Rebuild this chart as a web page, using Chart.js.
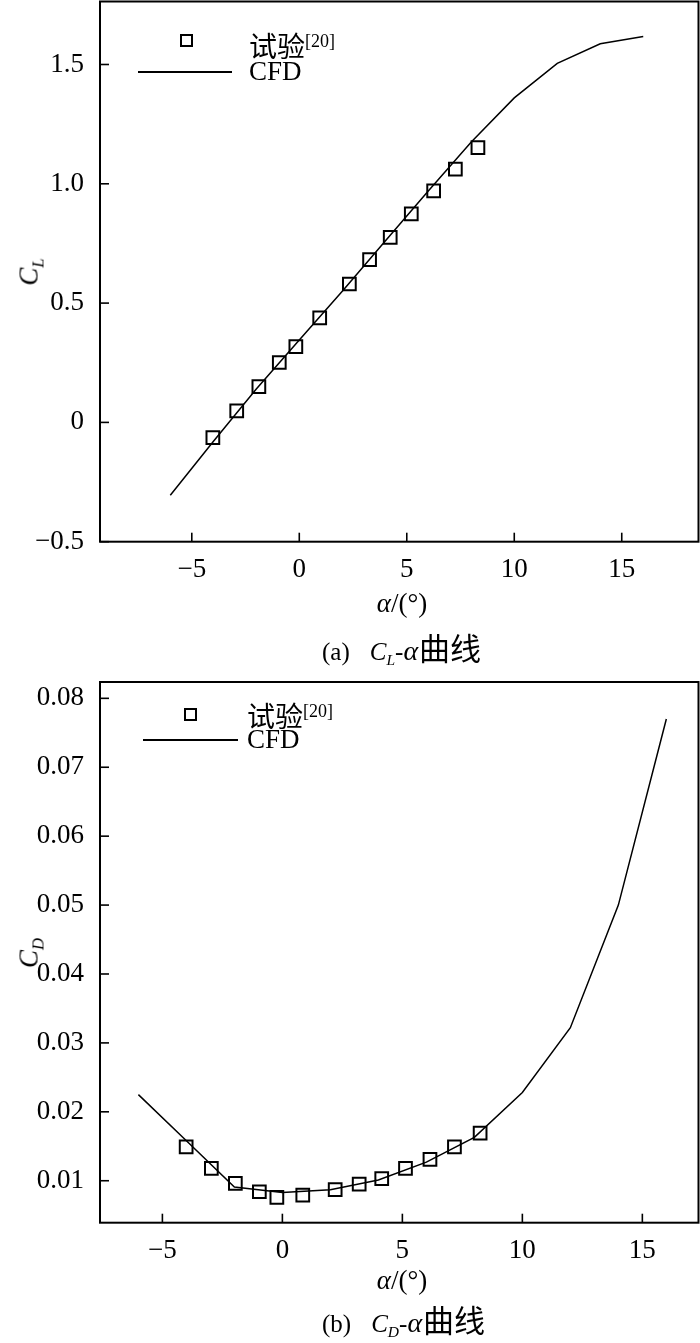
<!DOCTYPE html>
<html><head><meta charset="utf-8">
<script src="https://cdn.jsdelivr.net/npm/chart.js@4.4.1/dist/chart.umd.min.js"></script>
<style>
html,body{margin:0;padding:0;background:#fff}
body{width:700px;height:1343px;position:relative;overflow:hidden;font-family:"Liberation Serif","Noto Sans CJK SC",serif;color:#000}
canvas{position:absolute;left:0}
.t{position:absolute;white-space:nowrap;line-height:1}
.c{transform:translate(-50%,-50%)}
.l{transform:translateY(-50%)}
.cj{font-family:"Noto Sans CJK SC",sans-serif}
.sq{position:absolute;width:13px;height:13px;border:2px solid #000;box-sizing:border-box}
.ln{position:absolute;height:2px;background:#000}
.sb{font-size:0.62em;position:relative;top:0.35em}
.sp{font-size:18px;position:relative;top:-10px}
</style></head><body>
<canvas id="c1" width="700" height="670" style="top:0"></canvas>
<canvas id="c2" width="700" height="673" style="top:670px"></canvas>

<!-- top chart overlays -->
<div class="sq" style="left:180px;top:34px"></div>
<div class="ln" style="left:138px;top:71px;width:94px"></div>
<div class="t" style="left:249px;top:31px;font-size:28px"><span class="cj">试验</span><span class="sp">[20]</span></div>
<div class="t" style="left:249px;top:58px;font-size:27px">CFD</div>
<div class="t c" style="left:29px;top:272px;font-size:27px;transform:translate(-50%,-50%) rotate(-90deg)"><i>C</i><i class="sb">L</i></div>
<div class="t c" style="left:402px;top:603px;font-size:27px"><i>α</i>/(°)</div>
<div class="t l" style="left:322px;top:648px;font-size:25px">(a)<span style="margin-left:20px"><i>C</i><i class="sb">L</i>-<i style="font-size:28px">α</i><span class="cj" style="font-size:31px;margin-left:1px">曲线</span></span></div>

<!-- bottom chart overlays -->
<div class="sq" style="left:183.5px;top:708px"></div>
<div class="ln" style="left:143px;top:739px;width:95px"></div>
<div class="t" style="left:247px;top:701px;font-size:28px"><span class="cj">试验</span><span class="sp">[20]</span></div>
<div class="t" style="left:247px;top:726px;font-size:27px">CFD</div>
<div class="t c" style="left:29px;top:953px;font-size:27px;transform:translate(-50%,-50%) rotate(-90deg)"><i>C</i><i class="sb">D</i></div>
<div class="t c" style="left:402px;top:1280px;font-size:27px"><i>α</i>/(°)</div>
<div class="t l" style="left:322px;top:1320px;font-size:25px">(b)<span style="margin-left:20px"><i>C</i><i class="sb">D</i>-<i style="font-size:28px">α</i><span class="cj" style="font-size:31px;margin-left:1px">曲线</span></span></div>

<script>
// ---- data ----
const alphaCFD   = [-6, -4, -2, 0, 2, 4, 6, 8, 10, 12, 14, 16];
const clCFD      = [-0.305, -0.08, 0.14, 0.345, 0.55, 0.76, 0.97, 1.175, 1.36, 1.505, 1.587, 1.617];
const cdCFD      = [0.0225, 0.0158, 0.0091, 0.0083, 0.0087, 0.0101, 0.0127, 0.0163, 0.0228, 0.0322, 0.050, 0.077];
const alphaExpCL = [-4.02, -2.91, -1.88, -0.93, -0.16, 0.95, 2.33, 3.27, 4.23, 5.21, 6.25, 7.26, 8.31];
const clExp      = [-0.064, 0.048, 0.150, 0.251, 0.318, 0.438, 0.580, 0.682, 0.775, 0.874, 0.970, 1.061, 1.152];
const alphaExpCD = [-4.01, -2.96, -1.96, -0.96, -0.23, 0.85, 2.2, 3.2, 4.14, 5.13, 6.15, 7.17, 8.24];
const cdExp      = [0.0149, 0.0118, 0.0096, 0.0084, 0.0076, 0.0079, 0.0087, 0.0095, 0.0103, 0.0118, 0.0131, 0.0149, 0.0169];
const xTicks      = [-5, 0, 5, 10, 15];
const xTickLabels = ['\u22125', '0', '5', '10', '15'];
const clTicks      = [-0.5, 0, 0.5, 1.0, 1.5];
const clTickLabels = ['\u22120.5', '0', '0.5', '1.0', '1.5'];
const cdTicks      = [0.01, 0.02, 0.03, 0.04, 0.05, 0.06, 0.07, 0.08];
const cdTickLabels = ['0.01', '0.02', '0.03', '0.04', '0.05', '0.06', '0.07', '0.08'];

const pts = (xs, ys) => xs.map((x, i) => ({x, y: ys[i]}));

const framePlugin = {
  id: 'frame',
  afterDraw(chart) {
    const {ctx, chartArea: a, scales: {x, y}} = chart;
    ctx.save();
    ctx.strokeStyle = '#000';
    ctx.lineWidth = 1.6;
    x.ticks.forEach(t => {
      const px = x.getPixelForValue(t.value);
      ctx.beginPath(); ctx.moveTo(px, a.bottom); ctx.lineTo(px, a.bottom - 9); ctx.stroke();
    });
    y.ticks.forEach(t => {
      const py = y.getPixelForValue(t.value);
      ctx.beginPath(); ctx.moveTo(a.left, py); ctx.lineTo(a.left + 9, py); ctx.stroke();
    });
    ctx.lineWidth = 2;
    ctx.strokeRect(a.left, a.top, a.right - a.left, a.bottom - a.top);
    ctx.restore();
  }
};

function zeroPad(s) {
  s.paddingTop = 0; s.paddingBottom = 0; s.paddingLeft = 0; s.paddingRight = 0;
}

function makeChart(id, cfg) {
  const tickFont = {family: 'Liberation Serif', size: 27};
  return new Chart(document.getElementById(id), {
    type: 'scatter',
    data: {
      datasets: [
        {
          data: pts(alphaCFD, cfg.cfd),
          showLine: true, borderColor: '#000', borderWidth: 1.5,
          pointRadius: 0, fill: false, tension: 0
        },
        {
          data: pts(cfg.ax, cfg.exp),
          showLine: false, pointStyle: 'rect', pointRadius: 9,
          borderColor: '#000', borderWidth: 2,
          pointBorderColor: '#000', pointBorderWidth: 2,
          backgroundColor: 'rgba(0,0,0,0)', pointBackgroundColor: 'rgba(0,0,0,0)'
        }
      ]
    },
    options: {
      responsive: false, animation: false, devicePixelRatio: 1,
      layout: {autoPadding: false, padding: {top: cfg.padTop, right: 1.5, left: 0, bottom: 0}},
      plugins: {legend: {display: false}, tooltip: {enabled: false}},
      scales: {
        x: {
          type: 'linear', min: cfg.xMin, max: cfg.xMax,
          grid: {display: false}, border: {display: false},
          afterFit: s => { s.height = cfg.xH; zeroPad(s); },
          afterBuildTicks: s => { s.ticks = xTicks.map(v => ({value: v})); },
          ticks: {
            font: tickFont, color: '#000', padding: 4, autoSkip: false, maxRotation: 0,
            callback: v => xTickLabels[xTicks.indexOf(v)]
          }
        },
        y: {
          type: 'linear', min: cfg.yMin, max: cfg.yMax,
          grid: {display: false}, border: {display: false},
          afterFit: s => { s.width = 100; zeroPad(s); },
          afterBuildTicks: s => { s.ticks = cfg.yTicks.map(v => ({value: v})); },
          ticks: {
            font: tickFont, color: '#000', padding: 8, autoSkip: false,
            callback: v => cfg.yLabels[cfg.yTicks.indexOf(v)]
          }
        }
      }
    },
    plugins: [framePlugin]
  });
}

makeChart('c1', {
  cfd: clCFD, ax: alphaExpCL, exp: clExp,
  xMin: -9.27, xMax: 18.57, yMin: -0.5, yMax: 1.764,
  yTicks: clTicks, yLabels: clTickLabels,
  padTop: 1.5, xH: 128.3
});
makeChart('c2', {
  cfd: cdCFD, ax: alphaExpCD, exp: cdExp,
  xMin: -7.6, xMax: 17.34, yMin: 0.00391, yMax: 0.08237,
  yTicks: cdTicks, yLabels: cdTickLabels,
  padTop: 12, xH: 120.3
});
</script>
</body></html>
